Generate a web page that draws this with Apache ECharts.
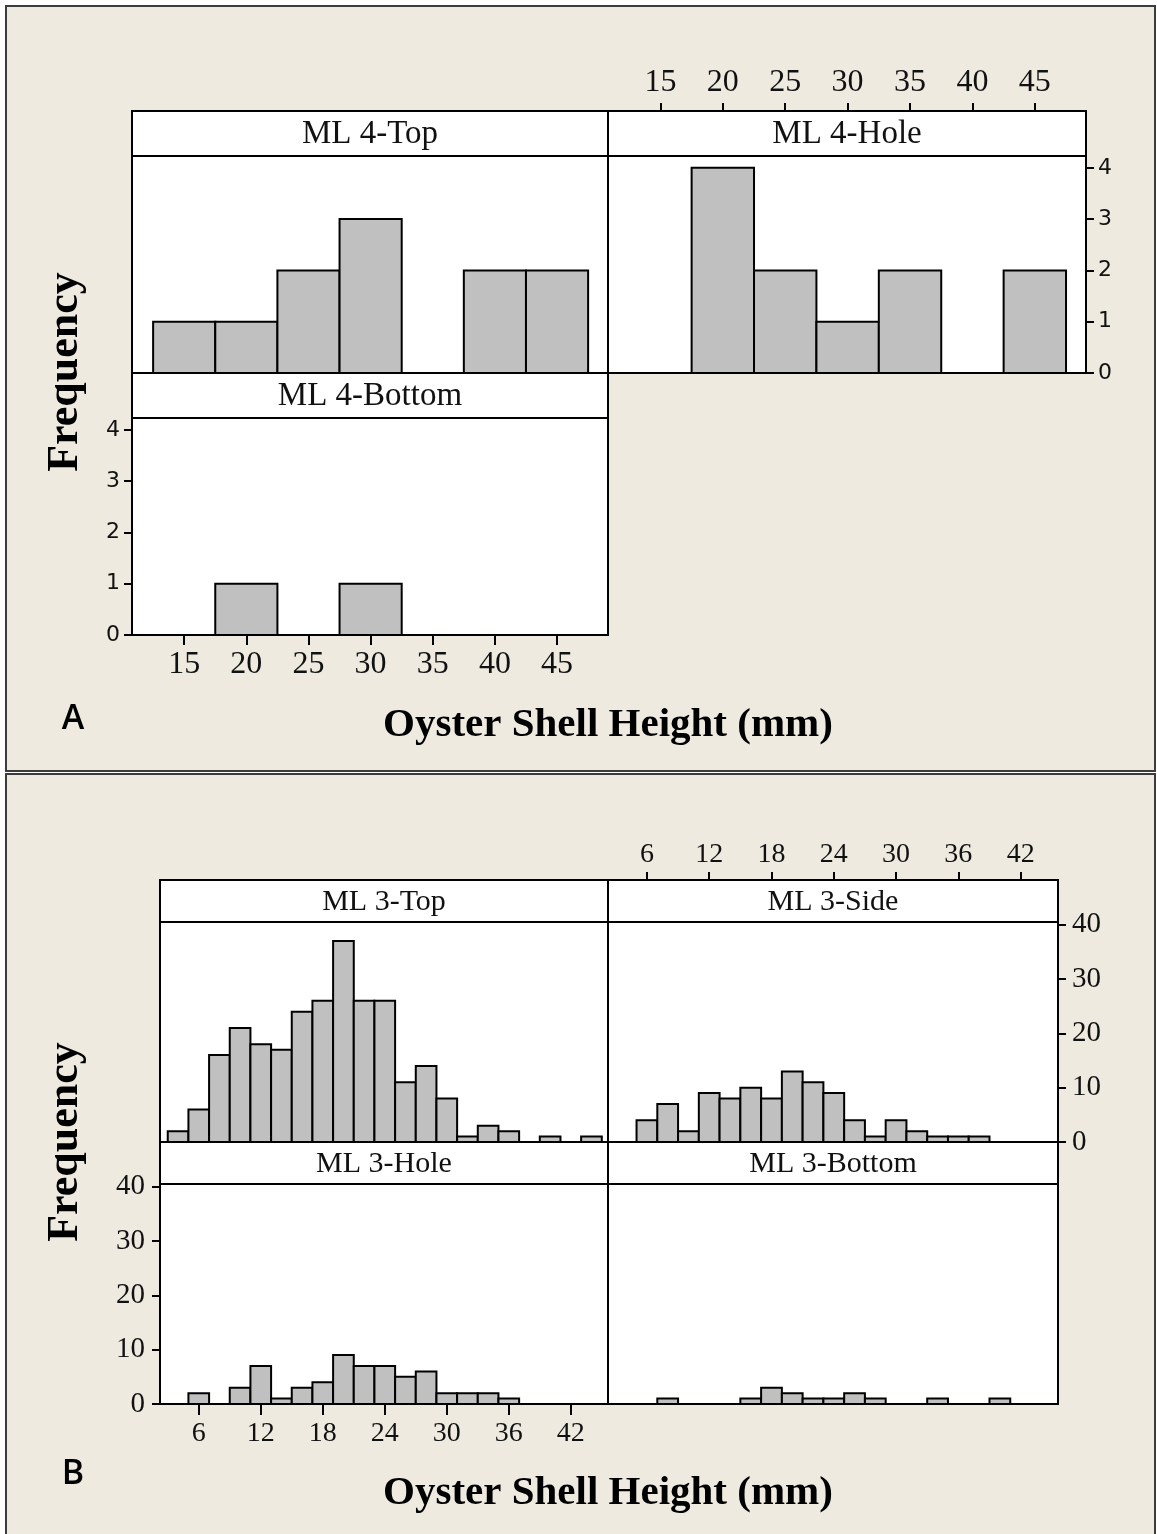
<!DOCTYPE html>
<html>
<head>
<meta charset="utf-8">
<script src="https://cdn.jsdelivr.net/npm/echarts@6/dist/echarts.min.js"></script>
<style>
  html, body { margin: 0; padding: 0; background: #ffffff; }
  #chart { width: 1157px; height: 1534px; }
</style>
</head>
<body>
<div id="chart"></div>
<script>
// ---- Site ML 4: shell-height bins (bin centres, mm) and counts ----
const binsML4 = [15, 20, 25, 30, 35, 40, 45];
const ml4Top = [1, 1, 2, 3, 0, 2, 2];
const ml4Hole = [0, 4, 2, 1, 2, 0, 2];
const ml4Bottom = [0, 1, 0, 1, 0, 0, 0];

// ---- Site ML 3: shell-height bins (bin centres, mm) and counts ----
const binsML3 = [4, 6, 8, 10, 12, 14, 16, 18, 20, 22, 24, 26, 28, 30, 32, 34, 36, 38, 40, 42, 44];
const ml3Top = [2, 6, 16, 21, 18, 17, 24, 26, 37, 26, 26, 11, 14, 8, 1, 3, 2, 0, 1, 0, 1];
const ml3Side = [0, 4, 7, 2, 9, 8, 10, 8, 13, 11, 9, 4, 1, 4, 2, 1, 1, 1, 0, 0, 0];
const ml3Hole = [0, 2, 0, 3, 7, 1, 3, 4, 9, 7, 7, 5, 6, 2, 2, 2, 1, 0, 0, 0, 0];
const ml3Bottom = [0, 0, 1, 0, 0, 0, 1, 3, 2, 1, 1, 2, 1, 0, 0, 1, 0, 0, 1, 0, 0];

// ---- Tick labels ----
const heightTicksML4 = [15, 20, 25, 30, 35, 40, 45];
const freqTicksML4 = [0, 1, 2, 3, 4];
const heightTicksML3 = [6, 12, 18, 24, 30, 36, 42];
const freqTicksML3 = [0, 10, 20, 30, 40];

const SERIF = '"Liberation Serif", "Times New Roman", serif';
const SANS = '"DejaVu Sans", Verdana, sans-serif';
const BG = '#EEEAE0';
const BAR = '#C0C0C0';

// [binStart, binEnd, count] for each non-empty bin
function histData(centres, counts) {
  const w = centres[1] - centres[0];
  return centres.map((c, i) => [c - w / 2, c + w / 2, counts[i]]).filter(d => d[2] > 0);
}

const rangeML4 = [10.8, 49.1];
const rangeML3 = [2.25, 45.6];

// Panel layout: plot box, strip height and which axes carry labels
const panels = [
  { title: 'ML 4-Top',    box: [132, 156, 476, 217], strip: 45, xr: rangeML4, ymax: 4.23, data: histData(binsML4, ml4Top) },
  { title: 'ML 4-Hole',   box: [608, 156, 478, 217], strip: 45, xr: rangeML4, ymax: 4.23, data: histData(binsML4, ml4Hole),
    xAx: { pos: 'top', ticks: heightTicksML4, font: SERIF, size: 32, margin: 12, tick: 8 },
    yAx: { pos: 'right', ticks: freqTicksML4, font: SANS, size: 22, margin: 12 } },
  { title: 'ML 4-Bottom', box: [132, 418, 476, 217], strip: 45, xr: rangeML4, ymax: 4.23, data: histData(binsML4, ml4Bottom),
    xAx: { pos: 'bottom', ticks: heightTicksML4, font: SERIF, size: 32, margin: 14, tick: 10 },
    yAx: { pos: 'left', ticks: freqTicksML4, font: SANS, size: 22, margin: 12 } },
  { title: 'ML 3-Top',    box: [160, 922, 448, 220], strip: 42, xr: rangeML3, ymax: 40.5, data: histData(binsML3, ml3Top) },
  { title: 'ML 3-Side',   box: [608, 922, 450, 220], strip: 42, xr: rangeML3, ymax: 40.5, data: histData(binsML3, ml3Side),
    xAx: { pos: 'top', ticks: heightTicksML3, font: SERIF, size: 28, margin: 11, tick: 8 },
    yAx: { pos: 'right', ticks: freqTicksML3, font: SERIF, size: 29, margin: 14 } },
  { title: 'ML 3-Hole',   box: [160, 1184, 448, 220], strip: 42, xr: rangeML3, ymax: 40.5, data: histData(binsML3, ml3Hole),
    xAx: { pos: 'bottom', ticks: heightTicksML3, font: SERIF, size: 28, margin: 16, tick: 11 },
    yAx: { pos: 'left', ticks: freqTicksML3, font: SERIF, size: 29, margin: 15 } },
  { title: 'ML 3-Bottom', box: [608, 1184, 450, 220], strip: 42, xr: rangeML3, ymax: 40.5, data: histData(binsML3, ml3Bottom) }
];

const grids = [], xAxes = [], yAxes = [], series = [];
const graphics = [
  // framed backgrounds of figure parts A and B
  { type: 'rect', z: -10, shape: { x: 6, y: 6, width: 1149, height: 765 },
    style: { fill: BG, stroke: '#3c3c3c', lineWidth: 2 } },
  { type: 'rect', z: -10, shape: { x: 6, y: 774, width: 1149, height: 775 },
    style: { fill: BG, stroke: '#3c3c3c', lineWidth: 2 } }
];

panels.forEach((p, i) => {
  const [l, t, w, h] = p.box;
  grids.push({ left: l, top: t, width: w, height: h, show: true, z: 1,
    backgroundColor: '#ffffff', borderColor: '#000000', borderWidth: 2 });

  // strip header with the panel name
  graphics.push({ type: 'rect', z: 20, shape: { x: l, y: t - p.strip, width: w, height: p.strip },
    style: { fill: '#ffffff', stroke: '#000000', lineWidth: 2 } });
  graphics.push({ type: 'text', z: 21, x: l + w / 2, y: t - p.strip / 2 + 1,
    style: { text: p.title, font: (p.strip > 43 ? 33 : 30) + 'px ' + SERIF, fill: '#111111',
      textAlign: 'center', textVerticalAlign: 'middle' } });

  const xa = { gridIndex: i, type: 'value', min: p.xr[0], max: p.xr[1], splitLine: { show: false } };
  if (p.xAx) {
    Object.assign(xa, {
      position: p.xAx.pos,
      z: 30,
      offset: p.xAx.pos === 'top' ? p.strip : 0,
      axisLine: { show: false, onZero: false },
      axisTick: { show: true, inside: false, length: p.xAx.tick, customValues: p.xAx.ticks,
        lineStyle: { color: '#000000', width: 2 } },
      axisLabel: { customValues: p.xAx.ticks, margin: p.xAx.margin, color: '#111111',
        fontFamily: p.xAx.font, fontSize: p.xAx.size }
    });
  } else {
    xa.show = false;
  }
  xAxes.push(xa);

  const ya = { gridIndex: i, type: 'value', min: 0, max: p.ymax, splitLine: { show: false } };
  if (p.yAx) {
    Object.assign(ya, {
      position: p.yAx.pos,
      z: 30,
      axisLine: { show: false, onZero: false },
      axisTick: { show: true, length: 8, customValues: p.yAx.ticks,
        lineStyle: { color: '#000000', width: 2 } },
      axisLabel: { customValues: p.yAx.ticks, margin: p.yAx.margin, color: '#111111',
        fontFamily: p.yAx.font, fontSize: p.yAx.size }
    });
  } else {
    ya.show = false;
  }
  yAxes.push(ya);

  series.push({
    type: 'custom', xAxisIndex: i, yAxisIndex: i, z: 5,
    data: p.data,
    renderItem: function (params, api) {
      const topLeft = api.coord([api.value(0), api.value(2)]);
      const bottomRight = api.coord([api.value(1), 0]);
      return {
        type: 'rect',
        shape: { x: topLeft[0], y: topLeft[1],
          width: bottomRight[0] - topLeft[0], height: bottomRight[1] - topLeft[1] },
        style: { fill: BAR, stroke: '#000000', lineWidth: 2 }
      };
    }
  });
});

// axis titles and part letters
function title(text, x, y, size, rotation) {
  return { type: 'text', z: 30, x: x, y: y, rotation: rotation || 0,
    style: { text: text, font: 'bold ' + size + 'px ' + SERIF, fill: '#000000',
      textAlign: 'center', textVerticalAlign: 'middle' } };
}
graphics.push(title('Frequency', 66, 372, 44, Math.PI / 2));
graphics.push(title('Frequency', 66, 1142, 44, Math.PI / 2));
graphics.push(title('Oyster Shell Height (mm)', 608, 725, 41));
graphics.push(title('Oyster Shell Height (mm)', 608, 1493, 41));
graphics.push({ type: 'text', z: 30, x: 73, y: 719,
  style: { text: 'A', font: '600 34px "Open Sans", sans-serif', fill: '#000000',
    textAlign: 'center', textVerticalAlign: 'middle' } });
graphics.push({ type: 'text', z: 30, x: 73, y: 1474,
  style: { text: 'B', font: '600 34px "Open Sans", sans-serif', fill: '#000000',
    textAlign: 'center', textVerticalAlign: 'middle' } });

const chart = echarts.init(document.getElementById('chart'), null, { renderer: 'canvas' });
chart.setOption({
  animation: false,
  backgroundColor: '#ffffff',
  grid: grids,
  xAxis: xAxes,
  yAxis: yAxes,
  series: series,
  graphic: { elements: graphics }
});
</script>
</body>
</html>
